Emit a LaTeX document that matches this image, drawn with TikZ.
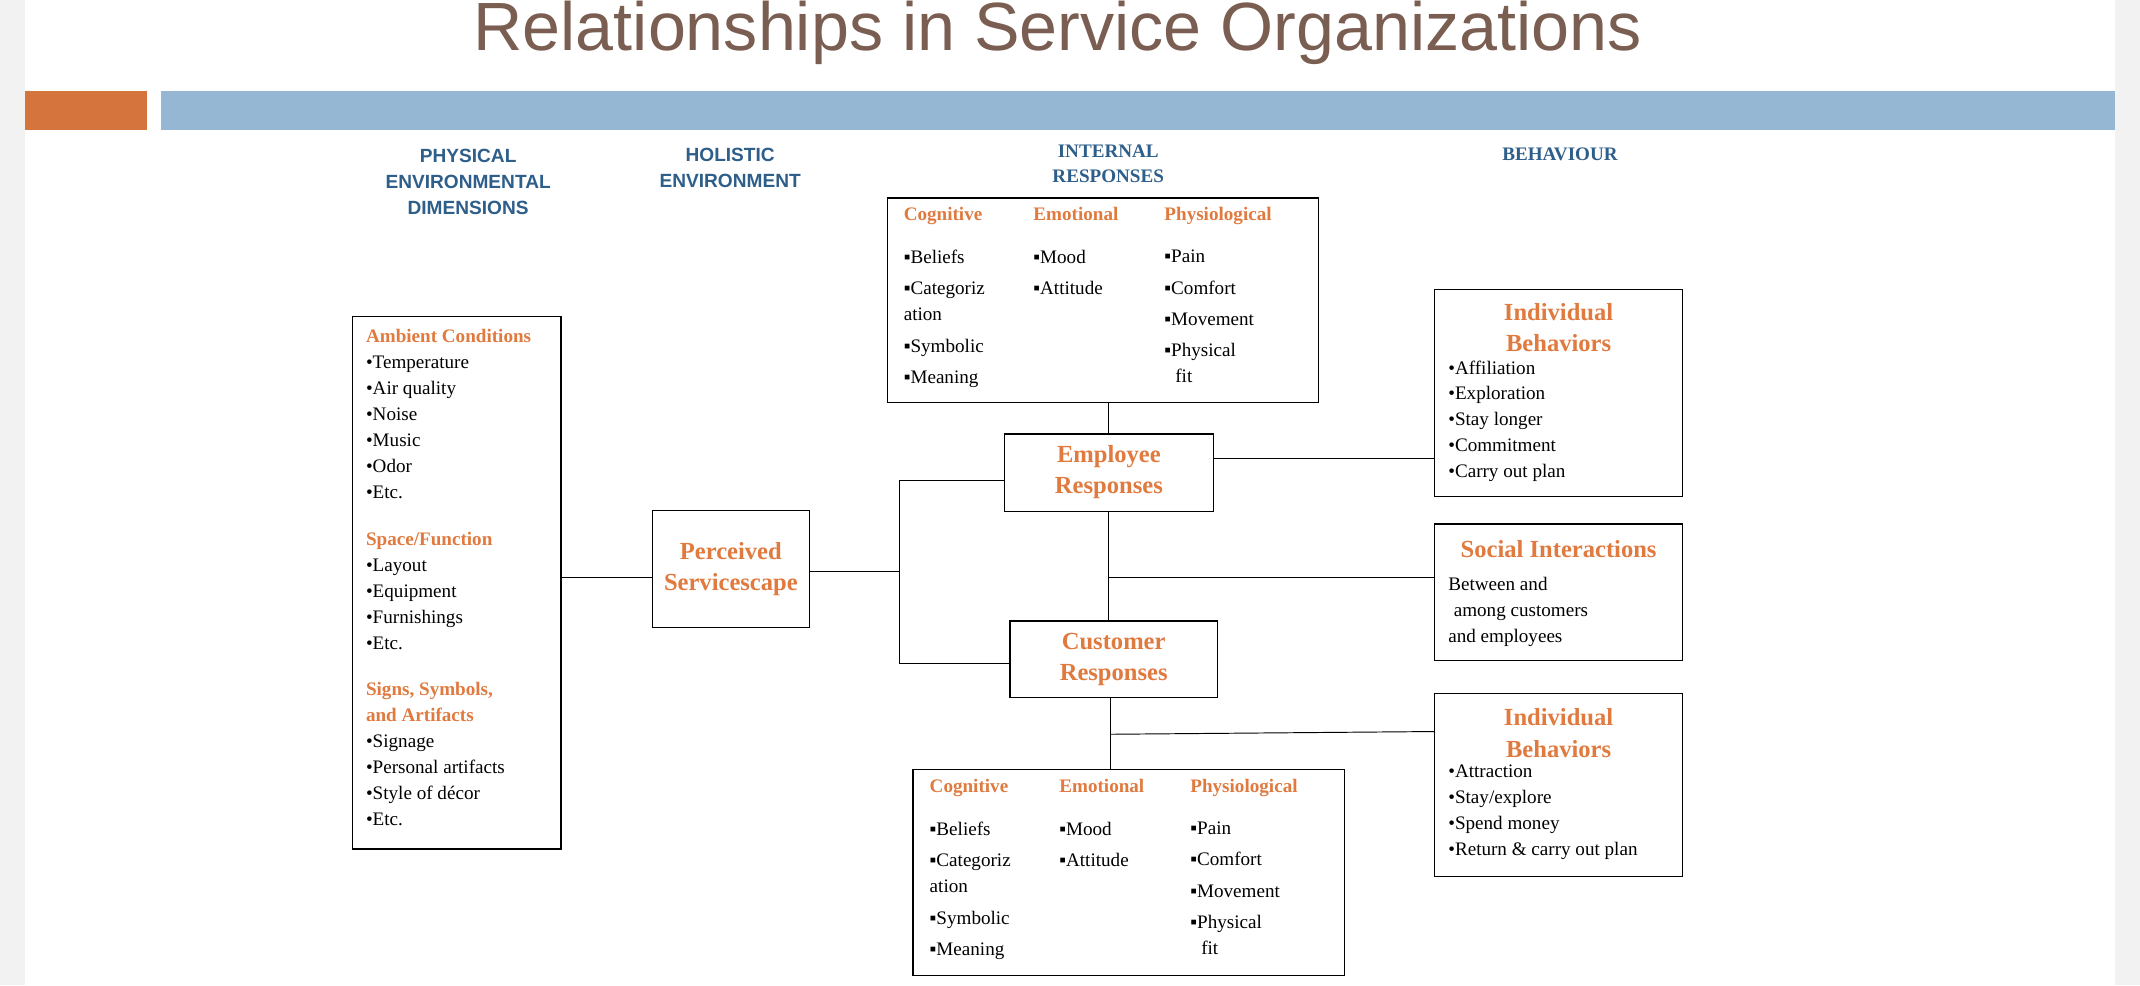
\documentclass[tikz,border=0pt]{standalone}
\usepackage{fontspec}
\setmainfont{Liberation Serif}
\newfontfamily\hsans{Liberation Sans}
\definecolor{oc}{HTML}{E07A3F}
\definecolor{hb}{HTML}{2E5E8A}
\definecolor{tt}{HTML}{7B5E52}
\definecolor{bl}{HTML}{95B7D3}
\begin{document}
\begin{tikzpicture}[x=1pt,y=-1pt,
 bx/.style={draw,line width=0.9pt},
 ln/.style={line width=0.7pt},
 txt/.style={anchor=north west,align=left,inner sep=0pt,font=\fontsize{14}{19}\selectfont},
 hd/.style={align=center,inner sep=0pt,font=\hsans\bfseries\fontsize{14}{19}\selectfont,text=hb},
 big/.style={align=center,inner sep=0pt,font=\bfseries\fontsize{18}{23}\selectfont,text=oc},
 sub/.style={text=oc,font=\bfseries\fontsize{14}{19}\selectfont}]
\fill[gray!10] (0,0) rectangle (1568,722);
\fill[white] (18,0) rectangle (1550,722);
\useasboundingbox (0,0) rectangle (1568,722);
\node[font=\hsans\fontsize{50}{55}\selectfont,text=tt] (title) at (775,24) {Relationships in Service Organizations};
\fill[oc!95!black] (18,67) rectangle (108,95);
\fill[bl] (118,67) rectangle (1550,95);
% headers
\node[hd] (h1) at (343,133) {PHYSICAL\\ENVIRONMENTAL\\DIMENSIONS};
\node[hd] (h2) at (535,123) {HOLISTIC\\ENVIRONMENT};
\node[hd,font=\bfseries\fontsize{14}{19}\selectfont] (h3) at (812,120) {INTERNAL\\RESPONSES};
\node[hd,font=\bfseries\fontsize{14}{19}\selectfont] (h4) at (1143,113) {BEHAVIOUR};
% boxes
\draw[bx] (258,232) rectangle (411,622);
\coordinate (lbR) at (411,423);
\draw[bx] (478,374) rectangle (593,460);
\coordinate (psL) at (478,423); \coordinate (psR) at (593,419);
\node[big] (ps) at (535.5,417) {Perceived\\Servicescape};
\draw[bx] (650,145) rectangle (966,295);
\draw[bx] (736,318) rectangle (889,375);
\node[big] (er) at (812.5,346) {Employee\\Responses};
\draw[bx] (740,455) rectangle (892,511);
\node[big] (cr) at (816,483) {Customer\\Responses};
\draw[bx] (669,564) rectangle (985,715);
\draw[bx] (1051,212) rectangle (1233,364);
\draw[bx] (1051,384) rectangle (1233,484);
\draw[bx] (1051,508) rectangle (1233,642);
% left box text
\node[txt] (g1) at (268,241) {{\color{oc}\bfseries Ambient Conditions}\\•Temperature\\•Air quality\\•Noise\\•Music\\•Odor\\•Etc.};
\node[txt] (g2) at (268,390) {{\color{oc}\bfseries Space/Function}\\•Layout\\•Equipment\\•Furnishings\\•Etc.};
\node[txt] (g3) at (268,500) {{\color{oc}\bfseries Signs, Symbols,}\\{\color{oc}\bfseries and Artifacts}\\•Signage\\•Personal artifacts\\•Style of décor\\•Etc.};
% internal response boxes
\foreach \dx/\dy/\nm in {0/0/t,19/419/b}{
\begin{scope}[shift={(\dx,\dy)}]
\node[txt,sub] (\nm c) at (662,152) {Cognitive};
\node[txt,sub] (\nm e) at (757,152) {Emotional};
\node[txt,sub] (\nm p) at (853,152) {Physiological};
\node[txt] (\nm c1) at (662,183) {▪Beliefs\\[4pt]▪Categoriz\\ation\\[4pt]▪Symbolic\\[4pt]▪Meaning};
\node[txt] (\nm e1) at (757,183) {▪Mood\\[4pt]▪Attitude};
\node[txt] (\nm p1) at (853,183) {▪Pain\\[4pt]▪Comfort\\[4pt]▪Movement\\[4pt]▪Physical\\\hspace*{8pt}fit};
\end{scope}}
% behaviour boxes
\node[big] (ib1) at (1142,240) {Individual\\Behaviors};
\node[txt] (ib1t) at (1061,264) {•Affiliation\\•Exploration\\•Stay longer\\•Commitment\\•Carry out plan};
\node[big] (si) at (1142,402) {Social Interactions};
\node[txt] (sit) at (1061,423) {Between and\\\hspace*{4pt}among customers\\and employees};
\node[big] (ib2) at (1142,537) {Individual\\Behaviors};
\node[txt] (ib2t) at (1061,560) {•Attraction\\•Stay/explore\\•Spend money\\•Return \& carry out plan};
% connectors
\draw[ln] (lbR) -- (psL);
\draw[ln] (psR) -- (659,419);
\draw[ln] (736,352) -- (659,352) -- (659,486) -- (740,486);
\draw[ln] (812,295) -- (812,318);
\draw[ln] (812,375) -- (812,455);
\draw[ln] (812,423) -- (1051,423);
\draw[ln] (889,336) -- (1051,336);
\draw[ln] (814,511) -- (814,564);
\draw[ln] (814,538) -- (1051,536);
\end{tikzpicture}
\end{document}
